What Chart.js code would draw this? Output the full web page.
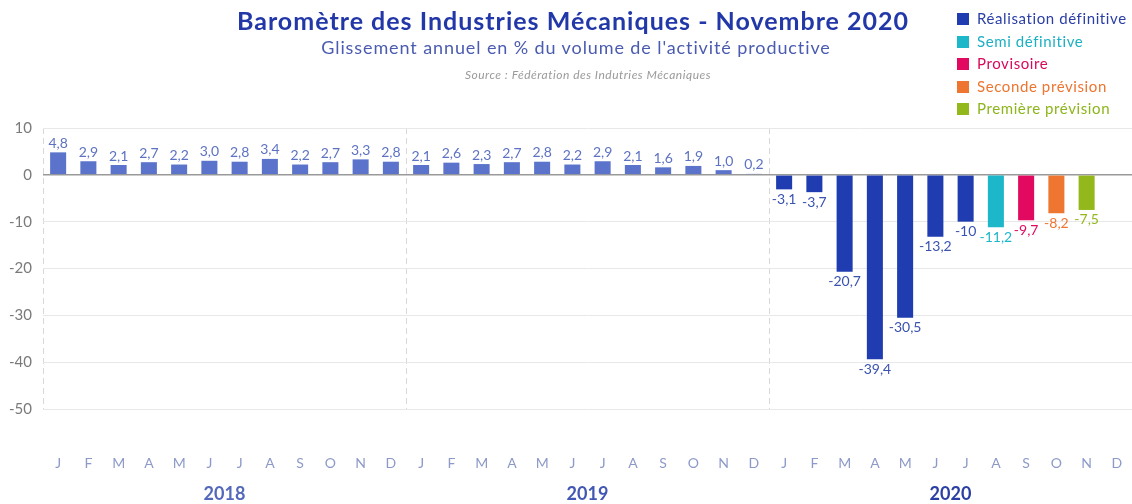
<!DOCTYPE html>
<html>
<head>
<meta charset="utf-8">
<script src="https://cdn.jsdelivr.net/npm/chart.js@4"></script>
<style>
  html, body { margin: 0; padding: 0; background: #fff; }
  body { width: 1132px; height: 504px; position: relative; overflow: hidden; font-family: Lato, sans-serif; }
  #wrap { position: absolute; left: 0; top: 0; width: 1132px; height: 504px; }
  .title { position: absolute; left: 0; width: 1146px; text-align: center; top: 5px; font-size: 25px; letter-spacing: 1px; font-weight: bold; color: #2338a8; }
  .sub { position: absolute; left: 0; width: 1152px; text-align: center; top: 36px; font-size: 18px; letter-spacing: 0.9px; color: #4a5bb0; }
  .src { position: absolute; left: 0; width: 1176px; text-align: center; top: 67px; font-size: 12px; letter-spacing: 0.5px; font-style: italic; color: #9a9a9a; }
  .legend { position: absolute; left: 957px; top: 9px; }
  .legend div { height: 22.5px; font-size: 15px; letter-spacing: 0.6px; line-height: 18px; white-space: nowrap; }
  .legend span { display: inline-block; width: 12px; height: 12px; margin-right: 8px; vertical-align: -1px; }
</style>
</head>
<body>
<div id="wrap"><canvas id="myChart" width="1132" height="504"></canvas></div>
<div class="title">Baromètre des Industries Mécaniques - Novembre 2020</div>
<div class="sub">Glissement annuel en % du volume de l'activité productive</div>
<div class="src">Source : Fédération des Indutries Mécaniques</div>
<div class="legend" id="legend"></div>
<script>
var months = ['J','F','M','A','M','J','J','A','S','O','N','D',
              'J','F','M','A','M','J','J','A','S','O','N','D',
              'J','F','M','A','M','J','J','A','S','O','N','D'];
var years = ['2018', '2019', '2020'];
var values = [4.8, 2.9, 2.1, 2.7, 2.2, 3.0, 2.8, 3.4, 2.2, 2.7, 3.3, 2.8,
              2.1, 2.6, 2.3, 2.7, 2.8, 2.2, 2.9, 2.1, 1.6, 1.9, 1.0, 0.2,
              -3.1, -3.7, -20.7, -39.4, -30.5, -13.2, -10, -11.2, -9.7, -8.2, -7.5, null];
var valueLabels = ['4,8','2,9','2,1','2,7','2,2','3,0','2,8','3,4','2,2','2,7','3,3','2,8',
                   '2,1','2,6','2,3','2,7','2,8','2,2','2,9','2,1','1,6','1,9','1,0','0,2',
                   '-3,1','-3,7','-20,7','-39,4','-30,5','-13,2','-10','-11,2','-9,7','-8,2','-7,5',''];
// stage of each month: 0 older years, 1 definitive, 2 semi, 3 provisoire, 4 seconde, 5 premiere
var stage = [0,0,0,0,0,0,0,0,0,0,0,0,
             0,0,0,0,0,0,0,0,0,0,0,0,
             1,1,1,1,1,1,1,2,3,4,5,0];
var legendNames = ['Réalisation définitive', 'Semi définitive', 'Provisoire', 'Seconde prévision', 'Première prévision'];
var yTicks = [10, 0, -10, -20, -30, -40, -50];

var barColors = ['#5b73cb', '#1f3cb0', '#1cb7c9', '#e20a60', '#ef7630', '#93b81c'];
var labelColors = ['#5d72c2', '#3a52b0', '#1cb7c9', '#e20a60', '#ef7630', '#93b81c'];
var legendText = ['#2a3ea6', '#1cb0c4', '#d8085c', '#ee7530', '#8db51c'];

var leg = document.getElementById('legend');
legendNames.forEach(function (n, i) {
  var d = document.createElement('div');
  d.style.color = legendText[i];
  d.innerHTML = '<span style="background:' + barColors[i + 1] + '"></span>' + n;
  leg.appendChild(d);
});

var barLabels = {
  id: 'barLabels',
  afterDatasetsDraw: function (chart) {
    var ctx = chart.ctx;
    var meta = chart.getDatasetMeta(0);
    ctx.save();
    ctx.font = '14px Lato';
    ctx.textAlign = 'center';
    meta.data.forEach(function (bar, i) {
      if (values[i] === null) return;
      ctx.fillStyle = labelColors[stage[i]];
      if (values[i] >= 0) {
        ctx.textBaseline = 'bottom';
        ctx.fillText(valueLabels[i], bar.x, bar.y - 2);
      } else {
        ctx.textBaseline = 'top';
        ctx.fillText(valueLabels[i], bar.x, bar.y + 3);
      }
    });
    ctx.restore();
  }
};

var ctx = document.getElementById('myChart').getContext('2d');
var myChart = new Chart(ctx, {
  type: 'bar',
  data: {
    labels: months,
    datasets: [{
      data: values,
      backgroundColor: stage.map(function (s) { return barColors[s]; }),
      barPercentage: 0.53,
      categoryPercentage: 1
    }]
  },
  options: {
    responsive: false,
    animation: false,
    layout: { padding: { top: 128, right: 0, left: 0, bottom: 0 } },
    plugins: {
      legend: { display: false },
      tooltip: { enabled: false }
    },
    scales: {
      x: {
        offset: true,
        afterFit: function (s) { s.height = 64; },
        grid: {
          offset: true,
          drawTicks: true,
          tickLength: 46,
          tickColor: 'rgba(0,0,0,0)',
          color: function (c) { return [0, 12, 24].indexOf(c.index) >= 0 ? '#d8d8d8' : 'rgba(0,0,0,0)'; }
        },
        border: { display: false, dash: [6, 4] },
        ticks: { color: '#8d9ac9', font: { family: 'Lato', size: 14 }, padding: 0, autoSkip: false, maxRotation: 0, minRotation: 0 }
      },
      x2: {
        type: 'category',
        labels: years,
        offset: true,
        position: 'bottom',
        afterFit: function (s) { s.height = 31; },
        grid: { display: false, drawTicks: false },
        border: { display: false },
        ticks: {
          color: function (c) { return ['#5368bb', '#4257b3', '#2a3ea4'][c.index]; },
          font: { family: 'Lato', size: 18, weight: 'bold' },
          padding: 10,
          maxRotation: 0,
          minRotation: 0,
          autoSkip: false
        }
      },
      y: {
        min: -50,
        max: 10,
        afterBuildTicks: function (s) { s.ticks = yTicks.map(function (v) { return { value: v }; }); },
        afterFit: function (s) { s.width = 43; },
        grid: {
          drawTicks: false,
          color: function (c) { return c.tick && c.tick.value === 0 ? '#9a9a9a' : '#e8e8e8'; },
          lineWidth: function (c) { return c.tick && c.tick.value === 0 ? 1.5 : 1; }
        },
        border: { display: false },
        ticks: { color: '#7a7a7a', font: { family: 'Lato', size: 15 }, padding: 11 }
      }
    }
  },
  plugins: [barLabels]
});
</script>
</body>
</html>
